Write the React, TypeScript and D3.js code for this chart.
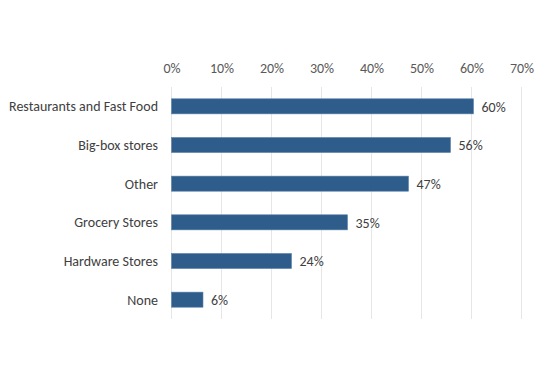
import React, { useEffect, useRef } from 'react';
import * as d3 from 'd3';

const categories = [
  'Restaurants and Fast Food',
  'Big-box stores',
  'Other',
  'Grocery Stores',
  'Hardware Stores',
  'None',
];
// bar lengths; labels show them rounded
const shares = [60.4, 55.8, 47.4, 35.2, 24.0, 6.3];
const xTicks = [0, 10, 20, 30, 40, 50, 60, 70];

const App = () => {
  const ref = useRef<SVGSVGElement | null>(null);

  useEffect(() => {
    if (!ref.current) return;
    const svg = d3.select(ref.current);
    svg.selectAll('*').remove();

    const left = 171.5;
    const right = 521.5;
    const top = 87;
    const bottom = 319;
    const font = 'Calibri, Carlito, "Open Sans", sans-serif';

    const x = d3.scaleLinear().domain([0, 70]).range([left, right]);
    const y = d3.scaleBand().domain(categories).range([top, bottom]).paddingInner(0.61).paddingOuter(0.305);

    // vertical gridlines
    svg.append('g')
      .selectAll('line')
      .data(xTicks)
      .enter()
      .append('line')
      .attr('x1', d => x(d))
      .attr('x2', d => x(d))
      .attr('y1', top)
      .attr('y2', bottom)
      .attr('stroke', '#e6e6e6')
      .attr('stroke-width', 1);

    // top axis labels
    const axis = svg.append('g')
      .attr('transform', `translate(0,${top - 11})`)
      .call(d3.axisTop(x).tickValues(xTicks).tickSize(0).tickFormat(d => `${d}%`));
    axis.select('.domain').remove();
    axis.selectAll('text')
      .attr('fill', '#595959')
      .style('font-family', font)
      .style('font-size', '14px');

    // bars
    svg.append('g')
      .selectAll('rect')
      .data(shares)
      .enter()
      .append('rect')
      .attr('x', x(0))
      .attr('y', (d, i) => y(categories[i])!)
      .attr('width', d => x(d) - x(0))
      .attr('height', y.bandwidth())
      .attr('fill', '#2e5d8c')
      .attr('stroke', '#5d83aa')
      .attr('stroke-width', 0.6);

    // value labels
    svg.append('g')
      .selectAll('text')
      .data(shares)
      .enter()
      .append('text')
      .attr('x', d => x(d) + 8)
      .attr('y', (d, i) => y(categories[i])! + y.bandwidth() / 2)
      .attr('dy', '0.38em')
      .attr('fill', '#404040')
      .style('font-family', font)
      .style('font-size', '14px')
      .text(d => `${Math.round(d)}%`);

    // category labels
    svg.append('g')
      .selectAll('text')
      .data(categories)
      .enter()
      .append('text')
      .attr('x', 158)
      .attr('y', d => y(d)! + y.bandwidth() / 2)
      .attr('dy', '0.35em')
      .attr('text-anchor', 'end')
      .attr('fill', '#404040')
      .style('font-family', font)
      .style('font-size', '14px')
      .text(d => d);
  }, []);

  return (
    <svg
      ref={ref}
      width={550}
      height={365}
      style={{ position: 'absolute', left: 0, top: 0, background: '#fff' }}
    />
  );
};

export default App;
